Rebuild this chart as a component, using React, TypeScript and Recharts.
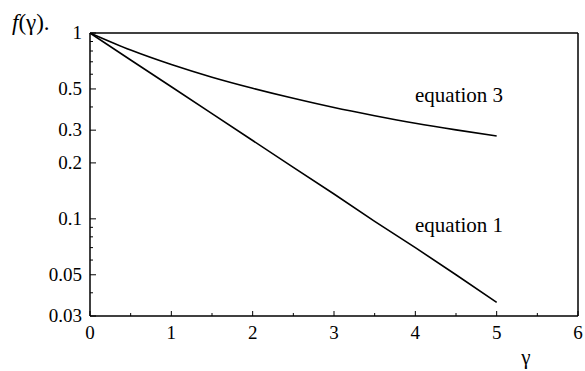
import {
  LineChart,
  Line,
  XAxis,
  YAxis,
  ReferenceLine,
} from "recharts";

// gamma values where both curves are sampled
const gammas = [0, 0.5, 1, 1.5, 2, 2.5, 3, 3.5, 4, 4.5, 5];
// f(gamma) for equation 1 (straight on the log axis)
const equation1 = [1, 0.716, 0.514, 0.368, 0.264, 0.189, 0.136, 0.097, 0.07, 0.05, 0.0355];
// f(gamma) for equation 3
const equation3 = [1, 0.809, 0.676, 0.578, 0.504, 0.445, 0.397, 0.359, 0.327, 0.301, 0.279];

const xTicks = [0, 0.5, 1, 1.5, 2, 2.5, 3, 3.5, 4, 4.5, 5, 5.5, 6];
const xLabels = [0, 1, 2, 3, 4, 5, 6];
const yTicks = [
  0.03, 0.04, 0.05, 0.06, 0.07, 0.08, 0.09, 0.1, 0.2, 0.3, 0.4, 0.5, 0.6, 0.7,
  0.8, 0.9, 1,
];
const yLabels = [0.03, 0.05, 0.1, 0.2, 0.3, 0.5, 1];

const data = gammas.map((g, i) => ({
  gamma: g,
  eq1: equation1[i],
  eq3: equation3[i],
}));

const FONT = "Liberation Serif";

const XTick = (props: any) => {
  const { x, y, payload } = props;
  const major = xLabels.includes(payload.value);
  return (
    <g>
      <line x1={x} x2={x} y1={y} y2={y - (major ? 5 : 3)} stroke="#000" strokeWidth={1} />
      {major && (
        <text x={x} y={y + 23} textAnchor="middle" fill="#000" style={{ fontFamily: FONT, fontSize: 19 }}>
          {payload.value}
        </text>
      )}
    </g>
  );
};

const YTick = (props: any) => {
  const { x, y, payload } = props;
  const major = yLabels.includes(payload.value);
  return (
    <g>
      <line x1={x} x2={x + (major ? 6 : 3)} y1={y} y2={y} stroke="#000" strokeWidth={1} />
      {major && (
        <text x={x - 8} y={y + 6} textAnchor="end" fill="#000" style={{ fontFamily: FONT, fontSize: 19 }}>
          {payload.value}
        </text>
      )}
    </g>
  );
};

export default function App() {
  return (
    <div style={{ position: "absolute", left: 0, top: 0, width: 585, height: 371, background: "#fff" }}>
      <LineChart
        width={585}
        height={371}
        data={data}
        margin={{ top: 33, right: 7, bottom: 0, left: 0 }}
      >
        <XAxis
          dataKey="gamma"
          type="number"
          domain={[0, 6]}
          ticks={xTicks}
          interval={0}
          height={55}
          tickSize={0}
          tickMargin={0}
          tick={<XTick />}
          axisLine={{ stroke: "#000", strokeWidth: 1.5 }}
        />
        <YAxis
          type="number"
          scale="log"
          domain={[0.03, 1]}
          allowDataOverflow
          ticks={yTicks}
          interval={0}
          width={90}
          tickSize={0}
          tickMargin={0}
          tick={<YTick />}
          axisLine={{ stroke: "#000", strokeWidth: 1.5 }}
        />
        {/* frame: top and right edges */}
        <ReferenceLine y={1} stroke="#000" strokeWidth={1.5} ifOverflow="visible" />
        <ReferenceLine x={6} stroke="#000" strokeWidth={1.5} ifOverflow="visible" />
        <Line
          dataKey="eq1"
          type="linear"
          stroke="#000"
          strokeWidth={1.6}
          dot={false}
          isAnimationActive={false}
        />
        <Line
          dataKey="eq3"
          type="monotone"
          stroke="#000"
          strokeWidth={1.6}
          dot={false}
          isAnimationActive={false}
        />
      </LineChart>
      <svg
        width={585}
        height={371}
        style={{ position: "absolute", left: 0, top: 0, pointerEvents: "none" }}
        fill="#000"
      >
        <text x={12} y={30} style={{ fontFamily: FONT, fontSize: 23 }}>
          <tspan style={{ fontStyle: "italic" }}>f</tspan>(γ).
        </text>
        <text x={526} y={364} textAnchor="middle" style={{ fontFamily: FONT, fontSize: 21 }}>γ</text>
        <text x={415} y={102} style={{ fontFamily: FONT, fontSize: 21 }}>equation 3</text>
        <text x={415} y={232} style={{ fontFamily: FONT, fontSize: 21 }}>equation 1</text>
      </svg>
    </div>
  );
}
